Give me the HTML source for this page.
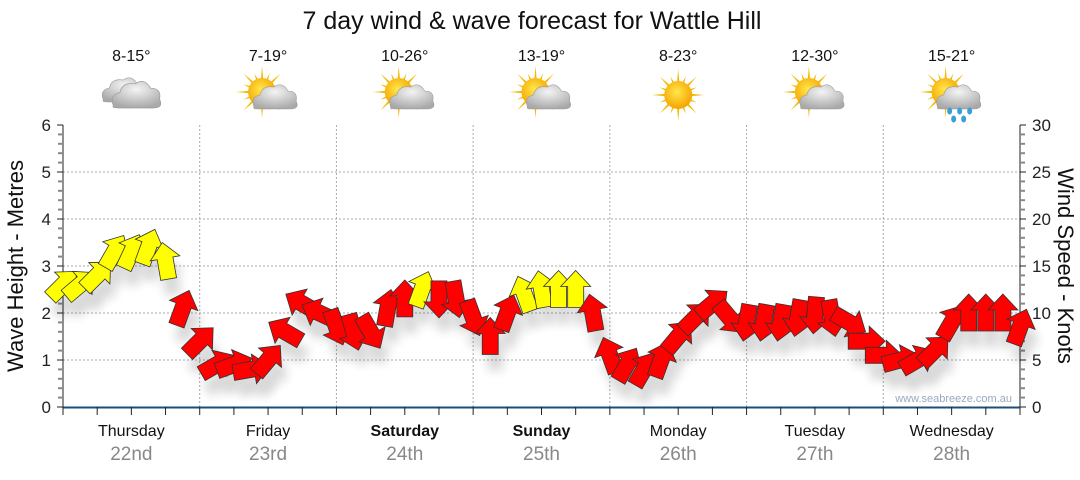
<!DOCTYPE html>
<html><head><meta charset="utf-8"><style>
body{margin:0;background:#fff;width:1080px;height:475px;overflow:hidden;font-family:"Liberation Sans",sans-serif}
</style></head><body>
<svg id="chart" width="1080" height="475" viewBox="0 0 1080 475" xmlns="http://www.w3.org/2000/svg" font-family="Liberation Sans, sans-serif">
<defs>
<radialGradient id="cloudG" cx="50%" cy="30%" r="70%"><stop offset="0" stop-color="#f4f4f4"/><stop offset="1" stop-color="#a9a9a9"/></radialGradient>
<radialGradient id="sunG" cx="45%" cy="40%" r="60%"><stop offset="0" stop-color="#ffe84a"/><stop offset="1" stop-color="#f5a300"/></radialGradient>
<filter id="sh" x="-50%" y="-50%" width="200%" height="200%"><feGaussianBlur stdDeviation="5"/></filter>
</defs>
<text x="532" y="29" text-anchor="middle" font-size="25" fill="#111">7 day wind &amp; wave forecast for Wattle Hill</text>
<g id="grid"></g>
<g id="axes"></g>
<g id="icons"></g>
<g id="shadows" opacity="0.15"></g>
<g id="arrows"></g>
<text x="1012" y="402" text-anchor="end" font-size="11" fill="#9aa9bf">www.seabreeze.com.au</text>
<text transform="translate(23,266) rotate(-90)" text-anchor="middle" font-size="22" fill="#111">Wave Height - Metres</text>
<text transform="translate(1058,266) rotate(90)" text-anchor="middle" font-size="22" fill="#111">Wind Speed - Knots</text>
</svg>
<script>
const days = ["Thursday","Friday","Saturday","Sunday","Monday","Tuesday","Wednesday"];
const dates = ["22nd","23rd","24th","25th","26th","27th","28th"];
const boldDays = [false,false,true,true,false,false,false];
const temps = ["8-15°","7-19°","10-26°","13-19°","8-23°","12-30°","15-21°"];
const icons = ["cloudy","partly","partly","partly","sunny","partly","rain"];
const waveTicks = [0,1,2,3,4,5,6];
const windTicks = [0,5,10,15,20,25,30];
const windSpeed = [13,13,14,16.5,16.5,17,15.5,10.5,
 7,4.5,4.5,4,5,8,11,10,
 8.5,8,8,10.5,11.5,12.5,11.5,11.5,
 9.5,7.5,10,12,12.5,12.5,12.5,10,
 5.5,4.5,4,5,7.5,9.5,11,9.5,
 9,9,9,9.5,9.8,9.5,9,7,
 5.5,5,5,6,9,10,10,10,8.5];
const windDir = [45,50,45,30,25,20,-10,20,
 45,60,70,80,40,-60,-60,-65,
 160,165,150,10,0,20,180,170,
 160,0,20,-20,-10,0,0,-10,
 -20,30,30,20,40,45,50,140,
 190,190,190,190,185,170,120,90,
 90,75,60,45,30,0,0,0,20];

const NS="http://www.w3.org/2000/svg";
const X0=63, X1=1020, Y0=407, Y1=125, DAYW=(X1-X0)/7;
const yWave=v=>Y0-(v/6)*(Y0-Y1);
const yWind=v=>Y0-(v/30)*(Y0-Y1);
const xHour=h=>X0+h/24*DAYW;
function mk(tag,attrs,parent){const e=document.createElementNS(NS,tag);for(const k in attrs)e.setAttribute(k,attrs[k]);parent.appendChild(e);return e;}
const grid=document.getElementById('grid'),axes=document.getElementById('axes'),iconsG=document.getElementById('icons');
waveTicks.forEach(v=>{if(v>0&&v<6){const l=mk('line',{x1:X0,x2:X1,y1:yWave(v),y2:yWave(v),stroke:'#aaa','stroke-dasharray':'2,2'},grid);

}});
for(let d=1;d<7;d++){const x=X0+d*DAYW;const l=mk('line',{x1:x,x2:x,y1:Y1,y2:Y0,stroke:'#aaa','stroke-dasharray':'2,2'},grid);

}
mk('line',{x1:X0,x2:X0,y1:Y1,y2:Y0+8,stroke:'#222'},axes);
mk('line',{x1:X1,x2:X1,y1:Y1,y2:Y0+8,stroke:'#222'},axes);
const xa=mk('line',{x1:X0,x2:X1,y1:Y0+0.5,y2:Y0+0.5,stroke:'#1a4f7a','stroke-width':2},axes);


for(let i=0;i<=30;i++){const v=i*0.2;const y=yWave(v);const major=i%5==0;mk('line',{x1:major?X0-6:X0-5,x2:X0,y1:y,y2:y,stroke:major?'#222':'#888','stroke-width':major?1:2},axes);}
waveTicks.forEach(v=>{const t=mk('text',{x:X0-12,y:yWave(v)+6,'text-anchor':'end','font-size':17,fill:'#222'},axes);t.textContent=v;

});
for(let i=0;i<=30;i++){const y=yWind(i);const major=i%5==0;mk('line',{x1:X1,x2:X1+(major?6:5),y1:y,y2:y,stroke:major?'#222':'#888','stroke-width':major?1:2},axes);}
windTicks.forEach(v=>{const t=mk('text',{x:X1+12,y:yWind(v)+6,'font-size':17,fill:'#222'},axes);t.textContent=v;

});
for(let h=0;h<=168;h+=6){const x=xHour(h);mk('line',{x1:x,x2:x,y1:Y0,y2:Y0+8,stroke:'#222'},axes);}
days.forEach((d,i)=>{const cx=X0+(i+0.5)*DAYW;
const t=mk('text',{x:cx,y:436,'text-anchor':'middle','font-size':16,fill:'#111','font-weight':boldDays[i]?'bold':'normal'},axes);t.textContent=d;


const t2=mk('text',{x:cx,y:460,'text-anchor':'middle','font-size':19,fill:'#888'},axes);t2.textContent=dates[i];


const t3=mk('text',{x:cx,y:61,'text-anchor':'middle','font-size':16,fill:'#111'},iconsG);t3.textContent=temps[i];


const g=mk('g',{transform:`translate(${cx},95)`},iconsG);


drawIcon(g,icons[i]);});
function cloud(g,dx,dy,s){const c=mk('g',{transform:`translate(${dx},${dy}) scale(${s})`},g);
mk('path',{d:'M-20,8 Q-24,-2 -14,-4 Q-12,-14 0,-12 Q8,-18 14,-8 Q24,-8 22,2 Q26,10 16,10 L-14,10 Q-22,10 -20,8Z',fill:'url(#cloudG)',stroke:'#9a9a9a','stroke-width':0.6},c);}
function sun(g,dx,dy){const s=mk('g',{transform:`translate(${dx},${dy})`},g);
for(let a=0;a<360;a+=22.5){const r=(a%45==0)?26:20;const ra=a*Math.PI/180;
mk('polygon',{points:`${Math.cos(ra-0.12)*11},${Math.sin(ra-0.12)*11} ${Math.cos(ra)*r},${Math.sin(ra)*r} ${Math.cos(ra+0.12)*11},${Math.sin(ra+0.12)*11}`,fill:'#f5b800'},s);}
mk('circle',{r:14,fill:'url(#sunG)'},s);}
function drawIcon(g,type){
if(type=='cloudy'){cloud(g,-8,-3,1.0);cloud(g,4,2,1.1);}
else if(type=='sunny'){sun(g,0,0);}
else{sun(g,-6,-3);cloud(g,6,4,1.0);
if(type=='rain'){[[-2,16],[8,16],[18,16],[2,24],[12,24]].forEach(p=>mk('ellipse',{cx:p[0],cy:p[1],rx:2.5,ry:3.5,fill:'#3a9fd8'},g));}}}
const arrowsG=document.getElementById('arrows'),shG=document.getElementById('shadows');
const shape='0,-19 15,-3 8,-3 8,18 -8,18 -8,-3 -15,-3';
windSpeed.forEach((v,i)=>{const x=xHour(i*3),y=yWind(v);
mk('polygon',{points:shape,transform:`translate(${x+5},${y+16}) rotate(${windDir[i]})`,fill:'#000',filter:'url(#sh)'},shG);
const p=mk('polygon',{points:shape,transform:`translate(${x},${y}) rotate(${windDir[i]})`,fill:v>=12?'#ffff00':'#ff0000',stroke:'#333','stroke-width':0.8},arrowsG);

});
</script>
</body></html>
